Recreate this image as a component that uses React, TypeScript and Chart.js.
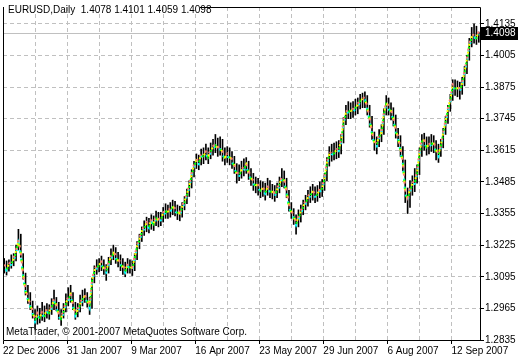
import React, { useEffect, useRef } from 'react';
import { Chart, registerables } from 'chart.js';
Chart.register(...registerables);

const closes = [
  1.3139, 1.3127, 1.3143, 1.3151, 1.3167, 1.3199, 1.3240, 1.3191, 1.3098, 1.3037,
  1.3005, 1.2977, 1.2948, 1.2916, 1.2940, 1.2928, 1.2944, 1.2936, 1.2956, 1.2948,
  1.2973, 1.2997, 1.2977, 1.2936, 1.2924, 1.2952, 1.2985, 1.3005, 1.3021, 1.2977,
  1.2940, 1.2956, 1.2981, 1.3005, 1.3013, 1.2997, 1.2973, 1.3078, 1.3118, 1.3135,
  1.3143, 1.3151, 1.3127, 1.3118, 1.3151, 1.3175, 1.3191, 1.3179, 1.3159, 1.3151,
  1.3135, 1.3118, 1.3143, 1.3135, 1.3127, 1.3175, 1.3220, 1.3248, 1.3280, 1.3297,
  1.3313, 1.3301, 1.3325, 1.3313, 1.3337, 1.3325, 1.3333, 1.3353, 1.3365, 1.3361,
  1.3370, 1.3382, 1.3370, 1.3361, 1.3353, 1.3382, 1.3402, 1.3434, 1.3467, 1.3515,
  1.3552, 1.3572, 1.3564, 1.3596, 1.3592, 1.3604, 1.3588, 1.3613, 1.3625, 1.3637,
  1.3621, 1.3625, 1.3604, 1.3584, 1.3596, 1.3588, 1.3572, 1.3552, 1.3515, 1.3515,
  1.3532, 1.3540, 1.3556, 1.3523, 1.3499, 1.3483, 1.3471, 1.3467, 1.3451, 1.3455,
  1.3442, 1.3459, 1.3451, 1.3442, 1.3434, 1.3451, 1.3475, 1.3499, 1.3491, 1.3442,
  1.3386, 1.3361, 1.3341, 1.3313, 1.3337, 1.3361, 1.3382, 1.3402, 1.3418, 1.3434,
  1.3442, 1.3430, 1.3434, 1.3451, 1.3459, 1.3499, 1.3564, 1.3596, 1.3604, 1.3604,
  1.3613, 1.3617, 1.3653, 1.3734, 1.3766, 1.3779, 1.3775, 1.3779, 1.3791, 1.3799,
  1.3819, 1.3823, 1.3827, 1.3787, 1.3742, 1.3685, 1.3645, 1.3637, 1.3673, 1.3685,
  1.3766, 1.3807, 1.3791, 1.3775, 1.3746, 1.3694, 1.3665, 1.3617, 1.3564, 1.3442,
  1.3414, 1.3451, 1.3475, 1.3483, 1.3523, 1.3604, 1.3653, 1.3653, 1.3629, 1.3633,
  1.3645, 1.3641, 1.3613, 1.3596, 1.3633, 1.3685, 1.3734, 1.3783, 1.3823, 1.3880,
  1.3872, 1.3868, 1.3864, 1.3888, 1.3937, 1.3989, 1.4050, 1.4078, 1.4086, 1.4078,
  1.4098,
];

const highs = [
  1.3170, 1.3160, 1.3165, 1.3185, 1.3190, 1.3225, 1.3290, 1.3270, 1.3190, 1.3110,
  1.3060, 1.3030, 1.2995, 1.2960, 1.2975, 1.2965, 1.2990, 1.2975, 1.2985, 1.2980,
  1.3005, 1.3040, 1.3010, 1.2990, 1.2960, 1.2985, 1.3025, 1.3050, 1.3060, 1.3030,
  1.2990, 1.2985, 1.3020, 1.3040, 1.3045, 1.3030, 1.3010, 1.3090, 1.3140, 1.3165,
  1.3170, 1.3180, 1.3165, 1.3145, 1.3175, 1.3210, 1.3225, 1.3215, 1.3195, 1.3185,
  1.3170, 1.3155, 1.3170, 1.3165, 1.3160, 1.3190, 1.3240, 1.3270, 1.3300, 1.3325,
  1.3340, 1.3335, 1.3350, 1.3345, 1.3365, 1.3360, 1.3360, 1.3380, 1.3395, 1.3390,
  1.3400, 1.3410, 1.3405, 1.3390, 1.3385, 1.3400, 1.3425, 1.3455, 1.3490, 1.3535,
  1.3570, 1.3600, 1.3595, 1.3620, 1.3625, 1.3640, 1.3625, 1.3645, 1.3660, 1.3680,
  1.3665, 1.3670, 1.3660, 1.3625, 1.3630, 1.3625, 1.3610, 1.3590, 1.3560, 1.3555,
  1.3570, 1.3580, 1.3585, 1.3570, 1.3540, 1.3520, 1.3505, 1.3500, 1.3490, 1.3485,
  1.3480, 1.3500, 1.3490, 1.3475, 1.3470, 1.3480, 1.3505, 1.3540, 1.3530, 1.3500,
  1.3450, 1.3400, 1.3375, 1.3350, 1.3370, 1.3390, 1.3410, 1.3430, 1.3450, 1.3465,
  1.3475, 1.3465, 1.3470, 1.3485, 1.3495, 1.3520, 1.3585, 1.3630, 1.3640, 1.3645,
  1.3650, 1.3655, 1.3680, 1.3750, 1.3800, 1.3815, 1.3810, 1.3815, 1.3825, 1.3830,
  1.3845, 1.3850, 1.3855, 1.3840, 1.3800, 1.3755, 1.3690, 1.3670, 1.3700, 1.3720,
  1.3785, 1.3840, 1.3830, 1.3810, 1.3790, 1.3760, 1.3705, 1.3675, 1.3630, 1.3575,
  1.3460, 1.3490, 1.3510, 1.3540, 1.3555, 1.3625, 1.3680, 1.3685, 1.3670, 1.3670,
  1.3680, 1.3675, 1.3655, 1.3640, 1.3660, 1.3705, 1.3755, 1.3800, 1.3845, 1.3905,
  1.3905, 1.3900, 1.3895, 1.3915, 1.3960, 1.4005, 1.4075, 1.4120, 1.4135, 1.4125,
  1.4101,
];

const lows = [
  1.3110, 1.3102, 1.3118, 1.3130, 1.3140, 1.3160, 1.3205, 1.3175, 1.3085, 1.3020,
  1.2985, 1.2960, 1.2925, 1.2880, 1.2900, 1.2905, 1.2915, 1.2910, 1.2925, 1.2920,
  1.2940, 1.2960, 1.2955, 1.2920, 1.2895, 1.2925, 1.2950, 1.2975, 1.2990, 1.2960,
  1.2920, 1.2930, 1.2950, 1.2975, 1.2990, 1.2970, 1.2940, 1.2965, 1.3070, 1.3105,
  1.3115, 1.3120, 1.3105, 1.3080, 1.3110, 1.3145, 1.3165, 1.3150, 1.3135, 1.3120,
  1.3105, 1.3095, 1.3110, 1.3110, 1.3100, 1.3120, 1.3165, 1.3210, 1.3240, 1.3265,
  1.3280, 1.3275, 1.3290, 1.3285, 1.3305, 1.3300, 1.3305, 1.3320, 1.3335, 1.3335,
  1.3340, 1.3350, 1.3345, 1.3330, 1.3325, 1.3340, 1.3370, 1.3395, 1.3425, 1.3460,
  1.3505, 1.3540, 1.3535, 1.3555, 1.3560, 1.3575, 1.3560, 1.3580, 1.3595, 1.3605,
  1.3590, 1.3595, 1.3570, 1.3555, 1.3565, 1.3555, 1.3540, 1.3520, 1.3480, 1.3490,
  1.3500, 1.3510, 1.3520, 1.3495, 1.3470, 1.3450, 1.3440, 1.3430, 1.3420, 1.3425,
  1.3410, 1.3430, 1.3420, 1.3415, 1.3405, 1.3420, 1.3440, 1.3465, 1.3460, 1.3420,
  1.3365, 1.3335, 1.3310, 1.3270, 1.3300, 1.3320, 1.3350, 1.3370, 1.3385, 1.3400,
  1.3410, 1.3400, 1.3405, 1.3420, 1.3425, 1.3450, 1.3490, 1.3550, 1.3570, 1.3575,
  1.3580, 1.3585, 1.3600, 1.3645, 1.3720, 1.3745, 1.3745, 1.3750, 1.3760, 1.3765,
  1.3785, 1.3790, 1.3790, 1.3760, 1.3710, 1.3660, 1.3615, 1.3600, 1.3630, 1.3650,
  1.3680, 1.3760, 1.3760, 1.3740, 1.3715, 1.3665, 1.3630, 1.3590, 1.3530, 1.3400,
  1.3355, 1.3380, 1.3430, 1.3445, 1.3480, 1.3515, 1.3590, 1.3615, 1.3595, 1.3600,
  1.3610, 1.3605, 1.3575, 1.3565, 1.3590, 1.3625, 1.3680, 1.3725, 1.3775, 1.3820,
  1.3840, 1.3835, 1.3825, 1.3845, 1.3880, 1.3930, 1.3985, 1.4040, 1.4055, 1.4050,
  1.4059,
];

const dateLabels = [
  '22 Dec 2006', '31 Jan 2007', '9 Mar 2007', '16 Apr 2007',
  '23 May 2007', '29 Jun 2007', '6 Aug 2007', '12 Sep 2007',
];
const barsPerLabel = 27;
const yTicks = [1.2835, 1.2965, 1.3095, 1.3225, 1.3355, 1.3485, 1.3615, 1.3745, 1.3875, 1.4005, 1.4135];
const yMin = 1.2835;
const yMax = 1.4204;
const titleText = 'EURUSD,Daily  1.4078 1.4101 1.4059 1.4098';
const copyrightText = 'MetaTrader, \u00A9 2001-2007 MetaQuotes Software Corp.';
const lastPrice = 1.4098;
const maColors = ['#fa8072', '#ffff00', '#00ff00', '#00ffff'];
const maShift = [-1.5, -0.5, 0.5, 1.5];

const FONT = "'Liberation Sans', Arial, sans-serif";

export default function App() {
  const ref = useRef<HTMLCanvasElement>(null);

  useEffect(() => {
    const canvas = ref.current;
    if (!canvas) return;
    const N = closes.length;
    const labels = closes.map((_, i) => String(i));
    const nGrid = Math.floor((N - 1) / (barsPerLabel / 2)) + 1;

    const lineSets = maColors.map((c, k) => ({
      type: 'line' as const,
      data: closes,
      borderColor: c,
      borderWidth: 2,
      borderDash: [2, 6],
      borderDashOffset: k * 2,
      pointRadius: 0,
      tension: 0,
      xAxisID: 'x',
      yAxisID: 'y',
      order: 1,
      fill: false,
    }));

    const overlay = {
      id: 'overlay',
      beforeDatasetsDraw(chart: any) {
        const { ctx, chartArea } = chart;
        const y = Math.round(chart.scales.y.getPixelForValue(lastPrice)) + 0.5;
        ctx.save();
        ctx.strokeStyle = '#c0c0c0';
        ctx.lineWidth = 1;
        ctx.beginPath();
        ctx.moveTo(chartArea.left, y);
        ctx.lineTo(chartArea.right, y);
        ctx.stroke();
        ctx.restore();
      },
      beforeDatasetDraw(chart: any, args: any) {
        const idx = args.index;
        chart.ctx.save();
        if (idx < maShift.length) chart.ctx.translate(0, maShift[idx]);
      },
      afterDatasetDraw(chart: any) {
        chart.ctx.restore();
      },
      afterDraw(chart: any) {
        const { ctx, chartArea } = chart;
        const { left, right, top, bottom } = chartArea;
        ctx.save();
        ctx.strokeStyle = '#000';
        ctx.lineWidth = 1;
        ctx.beginPath();
        ctx.moveTo(left + 0.5, top);
        ctx.lineTo(left + 0.5, bottom + 0.5);
        ctx.lineTo(right + 0.5, bottom + 0.5);
        ctx.lineTo(right + 0.5, top + 0.5);
        ctx.lineTo(200, top + 0.5);
        ctx.stroke();

        const y = Math.round(chart.scales.y.getPixelForValue(lastPrice));
        ctx.fillStyle = '#000';
        ctx.fillRect(right + 1, y - 6, 37, 13);
        ctx.fillStyle = '#fff';
        ctx.font = '10px ' + FONT;
        ctx.textBaseline = 'middle';
        ctx.textAlign = 'left';
        ctx.fillText(lastPrice.toFixed(4), right + 5, y + 0.5);

        ctx.fillStyle = '#000';
        ctx.fillText(titleText, 8, 10);
        ctx.fillText(copyrightText, 6, 332);
        ctx.restore();
      },
    };

    const chart = new Chart(canvas, {
      data: {
        labels,
        datasets: [
          ...lineSets,
          {
            type: 'bar' as const,
            data: lows.map((l, i) => [l, highs[i]]),
            backgroundColor: '#000',
            borderWidth: 0,
            barThickness: 1,
            xAxisID: 'x',
            yAxisID: 'y',
            order: 5,
          },
        ],
      } as any,
      options: {
        animation: false,
        responsive: false,
        devicePixelRatio: 1,
        layout: { padding: { left: 3, top: 2, right: 0, bottom: 0 } },
        plugins: { legend: { display: false }, tooltip: { enabled: false } },
        scales: {
          x: { type: 'category', display: false, offset: true, grid: { display: false } },
          xg: {
            type: 'linear',
            position: 'bottom',
            min: -0.5,
            max: N - 0.5,
            afterBuildTicks: (s: any) => {
              s.ticks = Array.from({ length: nGrid }, (_, k) => ({ value: -0.5 + (k * barsPerLabel) / 2 }));
            },
            afterFit: (s: any) => { s.height = 20; },
            grid: {
              color: (c: any) => (c.index === 0 ? 'rgba(0,0,0,0)' : '#c0c0c0'),
              tickColor: (c: any) => (c.index % 2 === 0 ? '#000' : 'rgba(0,0,0,0)'),
              tickLength: 4,
              tickBorderDash: [],
              lineWidth: 1,
            },
            border: { display: false, dash: [4, 3] },
            ticks: {
              autoSkip: false,
              maxRotation: 0,
              minRotation: 0,
              align: 'start',
              padding: 1,
              color: '#000',
              font: { family: FONT, size: 10 },
              callback: (_v: any, i: number) => (i % 2 === 0 ? dateLabels[i / 2] ?? '' : ''),
            },
          },
          y: {
            type: 'linear',
            position: 'right',
            min: yMin,
            max: yMax,
            afterBuildTicks: (s: any) => { s.ticks = yTicks.map((v) => ({ value: v })); },
            afterFit: (s: any) => { s.width = 40; },
            grid: {
              color: '#c0c0c0',
              tickColor: '#000',
              tickLength: 4,
              tickBorderDash: [],
              lineWidth: 1,
            },
            border: { display: false, dash: [4, 3] },
            ticks: {
              padding: 1,
              color: '#000',
              font: { family: FONT, size: 10 },
              callback: (v: any) => Number(v).toFixed(4),
            },
          },
        },
      } as any,
      plugins: [overlay],
    });
    return () => chart.destroy();
  }, []);

  return (
    <div style={{ position: 'fixed', left: 0, top: 0, width: 520, height: 360, background: '#fff' }}>
      <canvas ref={ref} width={520} height={360} style={{ display: 'block', width: 520, height: 360 }} />
    </div>
  );
}
